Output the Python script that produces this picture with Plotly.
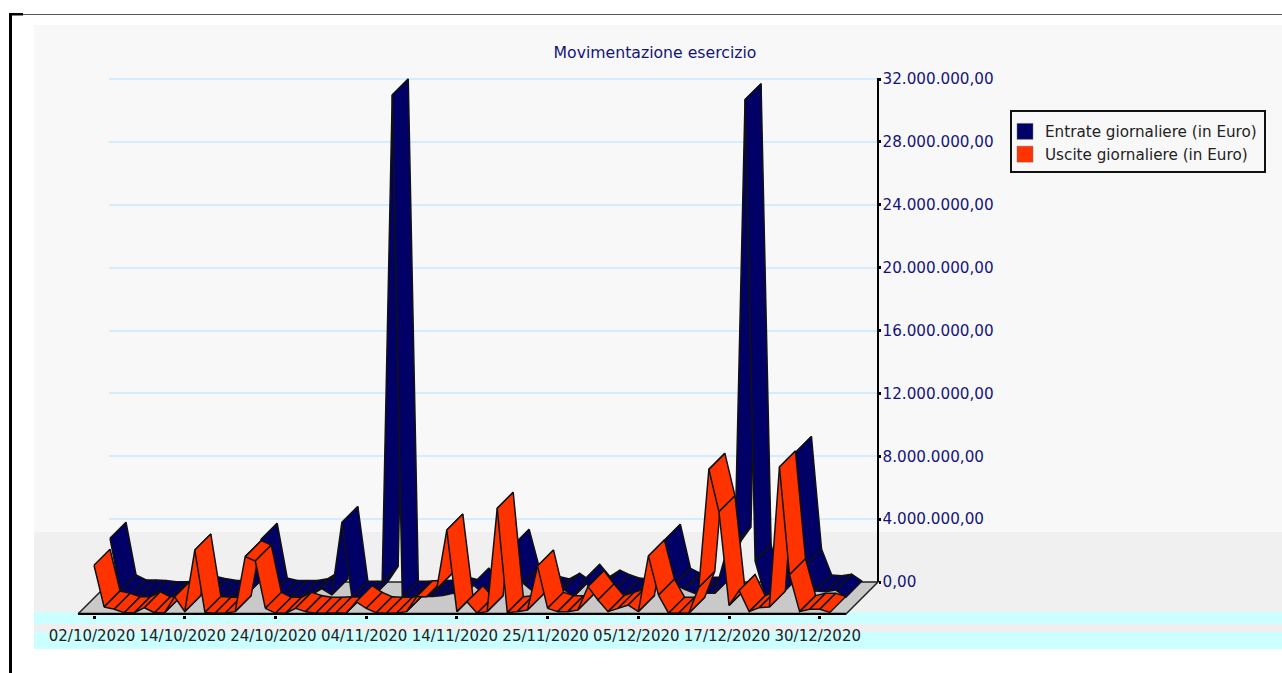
import plotly.graph_objects as go

W, H = 1282, 673
title_text = "Movimentazione esercizio"
series_names = ["Entrate giornaliere (in Euro)", "Uscite giornaliere (in Euro)"]
date_labels = ["02/10/2020", "14/10/2020", "24/10/2020", "04/11/2020", "14/11/2020",
               "25/11/2020", "05/12/2020", "17/12/2020", "30/12/2020"]
y_ticks = [0, 4e6, 8e6, 12e6, 16e6, 20e6, 24e6, 28e6, 32e6]
y_labels = ["0,00", "4.000.000,00", "8.000.000,00", "12.000.000,00", "16.000.000,00",
            "20.000.000,00", "24.000.000,00", "28.000.000,00", "32.000.000,00"]
# millions of euro
entrate = [3.8, .45, .13, .13, .1, .02, .02, .05, .05, .35, .2, .1, .1, .1, .5, 3.73, .25, .1, .1, .1,
           .2, .6, .2, 4.8, .05, .05, .05, 1.0, 32, .05, .05, .1, .1, .15, .3, .13, .87, .3, .3, .6,
           3.35, .93, .4, .34, .2, .55, .1, 1.12, .35, .75, .45, .23, .2, .2, .5, 3.67, .87, .55, .3, .3,
           .3, 2.6, 3.5, 31.7, 2.35, .1, .1, .5, 9.25, 2.1, .45, .4, .5, .05]
uscite = [3.1, .45, .3, .08, .08, .4, .08, .08, 1.1, .15, 4.07, .1, .05, .05, .15, 3.65, 3.37, .36, .05, .05,
          .36, .15, .05, .05, .08, .05, .78, .36, .08, .05, .05, .15, 1.1, 1.1, 1.6, 5.34, .15, .78, .05, .15,
          6.72, .08, .15, .25, 3.05, .36, .15, .15, .25, 1.74, .89, .15, .36, .57, .15, 3.69, 1.2, .05, .05, .05,
          1.7, 9.2, 6.5, .55, 1.5, .15, .4, .45, 9.35, 2.5, .15, .3, .3, .1]

NAVY, ORANGE = "#000066", "#ff3300"
TXT = "#222222"
AXTXT = "#14147a"
FONT = "DejaVu Sans"

# pixel geometry of the pseudo-3D box
PX_STEP = 10.08      # px per category
PX_M = 15.72         # px per million
PX_DEPTH = 16.0      # px of one ribbon depth
X0 = 94.0            # first point, front plane
FLOOR_Y = 614.0
TOP_Y = 79.0
TOP_PAD = 1.5        # px above the top tick, so that its gridline is kept
# front-plane viewport: larger than the floor so that nothing of the box is clipped
VL, VR, VB, VT = 76.0, 882.0, 615.0, 70.0
dx = PX_DEPTH / PX_STEP
dy = PX_DEPTH / PX_M * 1e6
xmin = (78 - X0) / PX_STEP
xmax = (846 - X0) / PX_STEP
n = len(uscite)


def px(x):
    return x / W


def py(y):
    return 1 - y / H


fig = go.Figure()

# trace that carries the back-plane value axis (first subplot: drawn underneath)
fig.add_trace(go.Scatter(x=[None], y=[None], xaxis="x", yaxis="y", mode="lines", showlegend=False, hoverinfo="skip"))

# floor
fig.add_trace(go.Scatter(
    x=[xmin, xmin + 2 * dx, xmax + 2 * dx, xmax, xmin],
    y=[0, 2 * dy, 2 * dy, 0, 0], xaxis="x2", yaxis="y2", mode="lines", fill="toself", fillcolor="#c9c9c9",
    line=dict(color="#222222", width=1.5), hoverinfo="skip", showlegend=False))


def ribbon(values, depth, color):
    vals = [v * 1e6 for v in values]
    for i in range(n - 1):
        a, b = vals[i], vals[i + 1]
        xs = [i + depth * dx, i + (depth + 1) * dx, i + 1 + (depth + 1) * dx, i + 1 + depth * dx, i + depth * dx]
        ys = [a + depth * dy, a + (depth + 1) * dy, b + (depth + 1) * dy, b + depth * dy, a + depth * dy]
        fig.add_trace(go.Scatter(x=xs, y=ys, xaxis="x2", yaxis="y2", mode="lines", fill="toself", fillcolor=color,
                                 line=dict(color="#111111", width=1.5), hoverinfo="skip", showlegend=False))


ribbon(entrate, 1, NAVY)
ribbon(uscite, 0, ORANGE)

# front edge of the floor, which is the date axis line
fig.add_trace(go.Scatter(x=[xmin, xmax], y=[0, 0], xaxis="x2", yaxis="y2", mode="lines",
                         line=dict(color="#000000", width=2.5), hoverinfo="skip", showlegend=False))

# legend entries
for name, col in zip(series_names, [NAVY, ORANGE]):
    fig.add_trace(go.Scatter(x=[None], y=[None], xaxis="x2", yaxis="y2", mode="markers", name=name,
                             marker=dict(symbol="square", size=16, color=col, line=dict(color="#777777", width=0.5))))


def band(x0, y0, x1, y1, color):
    return dict(type="rect", xref="paper", yref="paper", x0=px(x0), x1=px(x1), y0=py(y1), y1=py(y0),
                fillcolor=color, line_width=0, layer="below")


shapes = [
    band(34, 25, W, 532, "#f8f8f8"),
    band(34, 532, W, 612, "#f0f0f0"),
    band(34, 612, W, 624, "#ccffff"),
    band(34, 624, W, 632, "#efefef"),
    band(34, 632, W, 649, "#ccffff"),
    band(9, 14, 12, H, "#000000"),
    band(12, 14, W, 15, "#555555"),
    band(9, 13, 23, 15.5, "#000000"),
    dict(type="rect", xref="paper", yref="paper", x0=px(1011), x1=px(1265), y0=py(172), y1=py(111),
         fillcolor="rgba(0,0,0,0)", line=dict(color="#111111", width=2), layer="above"),
]

fig.update_layout(
    width=W, height=H, autosize=False, margin=dict(l=0, r=0, t=0, b=0, pad=0, autoexpand=False),
    paper_bgcolor="white", plot_bgcolor="rgba(0,0,0,0)", shapes=shapes,
    font=dict(family=FONT, color=TXT),
    title=dict(text=title_text, x=655 / W, xanchor="center", y=py(53), yanchor="middle",
               font=dict(family=FONT, size=15.7, color=AXTXT)),
    xaxis=dict(domain=[px(108.5), px(876.5)], range=[xmin, xmax], visible=False, anchor="y"),
    yaxis=dict(domain=[py(582), py(TOP_Y - TOP_PAD)], range=[0, 32e6 + TOP_PAD / PX_M * 1e6], anchor="x", side="right",
               tickmode="array", tickvals=y_ticks, ticktext=y_labels,
               showgrid=True, gridcolor="#d4ecff", gridwidth=2, zeroline=False,
               showline=True, linecolor="#000000", linewidth=2,
               ticks="outside", ticklen=2, tickwidth=3, tickcolor="#000000", ticklabelstandoff=-1,
               tickfont=dict(family=FONT, size=15.2, color=AXTXT)),
    xaxis2=dict(domain=[px(VL), px(VR)], range=[(VL - X0) / PX_STEP, (VR - X0) / PX_STEP], tickmode="array",
                tickvals=[i * 9 for i in range(len(date_labels))], ticktext=date_labels,
                showgrid=False, zeroline=False, showline=False,
                ticks="outside", ticklen=3, tickwidth=3, tickcolor="#000000",
                tickfont=dict(family=FONT, size=15, color=TXT), ticklabelstandoff=4, ticklabelshift=-2,
                anchor="y2"),
    yaxis2=dict(domain=[py(VB), py(VT)], range=[(FLOOR_Y - VB) / PX_M * 1e6, (FLOOR_Y - VT) / PX_M * 1e6],
                visible=False, anchor="x2"),
    legend=dict(x=px(1005), y=py(115), xanchor="left", yanchor="top", bgcolor="rgba(0,0,0,0)",
                borderwidth=0, font=dict(family=FONT, size=15.2, color=TXT),
                itemclick=False, itemdoubleclick=False, tracegroupgap=0),
    showlegend=True,
)

fig.write_html("out.html", config={"displayModeBar": False},
               post_script="document.body.style.margin='0';document.body.style.overflow='hidden';")
